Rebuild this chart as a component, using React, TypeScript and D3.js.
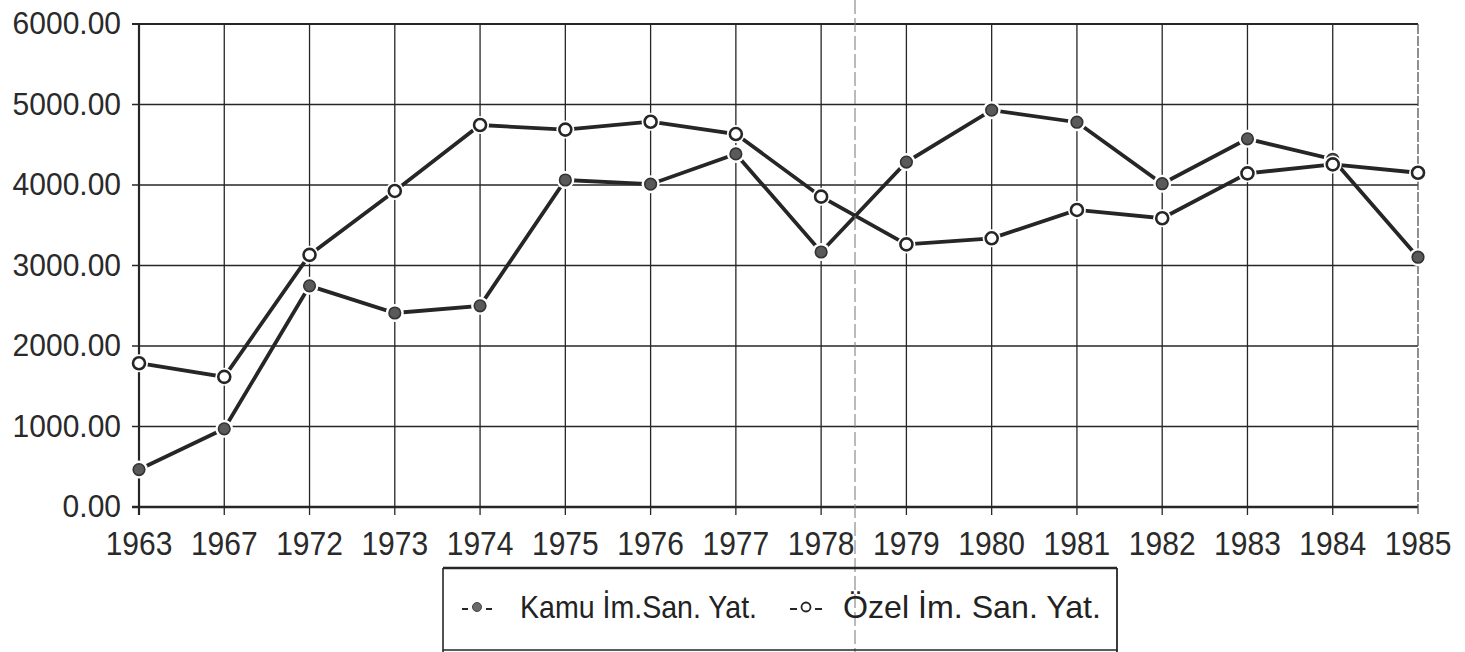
import React from "react";
import * as d3 from "d3";

const years = ["1963", "1967", "1972", "1973", "1974", "1975", "1976", "1977", "1978", "1979", "1980", "1981", "1982", "1983", "1984", "1985"];
const kamu = [465, 971, 2747, 2410, 2499, 4062, 4010, 4386, 3168, 4285, 4930, 4780, 4016, 4574, 4320, 3103];
const ozel = [1786, 1617, 3132, 3926, 4745, 4688, 4786, 4633, 3855, 3262, 3338, 3690, 3587, 4145, 4256, 4152];
const yTicks = [0, 1000, 2000, 3000, 4000, 5000, 6000];
const legendLabels = ["Kamu İm.San. Yat.", "Özel İm. San. Yat."];

const W = 1465;
const H = 652;
const left = 139;
const right = 1418;
const top = 24;
const bottom = 507;
const ink = "#262626";
const font = "'Liberation Sans', Arial, Helvetica, sans-serif";

export default function App() {
  const x = d3.scalePoint<string>().domain(years).range([left, right]);
  const y = d3.scaleLinear().domain([0, 6000]).range([bottom, top]);
  const line = d3
    .line<number>()
    .x((_, i) => x(years[i]) as number)
    .y((d) => y(d));

  const marker = (cx: number, cy: number, filled: boolean, key: string) => (
    <g key={key}>
      <circle cx={cx} cy={cy} r={9} fill="#fff" />
      <circle
        cx={cx}
        cy={cy}
        r={filled ? 5.8 : 6}
        fill={filled ? "#5a5a5a" : "#fff"}
        stroke={filled ? "#333" : ink}
        strokeWidth={filled ? 1.6 : 2.6}
      />
    </g>
  );

  return (
    <svg
      width={W}
      height={H}
      style={{ position: "absolute", left: 0, top: 0, background: "#fff" }}
    >
      {/* horizontal grid */}
      {yTicks.map((t) => (
        <line
          key={"h" + t}
          x1={left - 7}
          x2={right}
          y1={y(t)}
          y2={y(t)}
          stroke={ink}
          strokeWidth={t === 0 ? 2.6 : t === 6000 ? 2 : 1.4}
        />
      ))}
      {/* vertical grid */}
      {years.map((yr, i) => (
        <line
          key={"v" + yr}
          x1={x(yr)}
          x2={x(yr)}
          y1={top}
          y2={bottom + 8}
          stroke={i === years.length - 1 ? "#555" : ink}
          strokeWidth={i === 0 ? 2.2 : 1.3}
          strokeDasharray={i === years.length - 1 ? "10 2" : undefined}
        />
      ))}
      {/* y labels */}
      {yTicks.map((t) => (
        <text
          key={"yl" + t}
          transform={`translate(121,${y(t) + 10}) scale(1,1.05)`}
          textAnchor="end"
          fontFamily={font}
          fontSize={30}
          fill="#2a2a2a"
        >
          {t.toFixed(2)}
        </text>
      ))}
      {/* x labels */}
      {years.map((yr) => (
        <text
          key={"xl" + yr}
          transform={`translate(${x(yr)},555) scale(1,1.13)`}
          textAnchor="middle"
          fontFamily={font}
          fontSize={30}
          fill="#2a2a2a"
        >
          {yr}
        </text>
      ))}
      {/* series lines */}
      <path d={line(ozel) || ""} fill="none" stroke={ink} strokeWidth={3.8} />
      <path d={line(kamu) || ""} fill="none" stroke={ink} strokeWidth={3.8} />
      {/* markers */}
      {kamu.map((v, i) => marker(x(years[i]) as number, y(v), true, "k" + i))}
      {ozel.map((v, i) => marker(x(years[i]) as number, y(v), false, "o" + i))}

      {/* scan fold line */}
      <line x1={855} x2={855} y1={0} y2={H} stroke="#777" strokeWidth={1} strokeDasharray="14 4" />

      {/* legend */}
      <g>
        <line x1={443} x2={1117} y1={568} y2={568} stroke={ink} strokeWidth={2.4} />
        <line x1={443} x2={443} y1={568} y2={H} stroke={ink} strokeWidth={1.6} />
        <line x1={1117} x2={1117} y1={568} y2={H} stroke={ink} strokeWidth={1.8} />
        <line x1={443} x2={1117} y1={650} y2={650} stroke={ink} strokeWidth={1.6} />
        {/* kamu key */}
        <line x1={462} x2={468} y1={609} y2={609} stroke={ink} strokeWidth={2} />
        <circle cx={477} cy={607} r={4.5} fill="#6a6a6a" stroke="#444" strokeWidth={1} />
        <line x1={486} x2={492} y1={609} y2={609} stroke={ink} strokeWidth={2} />
        <text
          transform="translate(520,618) scale(1,1.08)"
          fontFamily={font}
          fontSize={29}
          fill="#222"
          textLength={237}
          lengthAdjust="spacingAndGlyphs"
        >
          {legendLabels[0]}
        </text>
        {/* ozel key */}
        <line x1={790} x2={797} y1={609} y2={609} stroke={ink} strokeWidth={2} />
        <circle cx={806} cy={607} r={4.5} fill="#fff" stroke={ink} strokeWidth={1.8} />
        <line x1={815} x2={822} y1={609} y2={609} stroke={ink} strokeWidth={2} />
        <text
          transform="translate(843,618) scale(1,1.08)"
          fontFamily={font}
          fontSize={29}
          fill="#222"
          textLength={258}
          lengthAdjust="spacingAndGlyphs"
        >
          {legendLabels[1]}
        </text>
      </g>
    </svg>
  );
}
